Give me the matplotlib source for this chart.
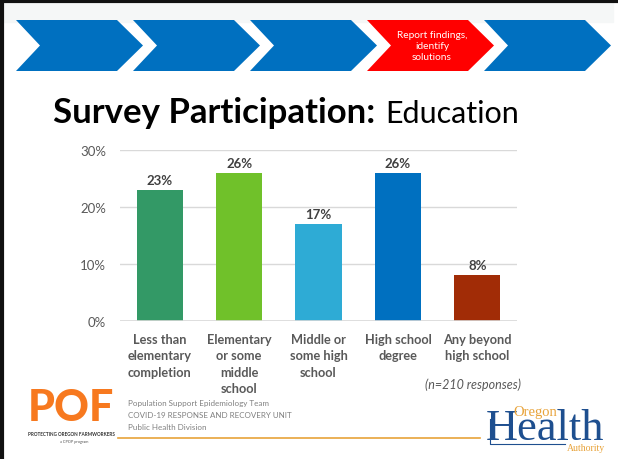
import matplotlib
matplotlib.use('Agg')
import matplotlib.pyplot as plt
from matplotlib.patches import Polygon, Rectangle

plt.rcParams['font.family'] = ['Lato', 'DejaVu Sans']

# chart data
categories = ['Less than\nelementary\ncompletion', 'Elementary\nor some\nmiddle\nschool',
              'Middle or\nsome high\nschool', 'High school\ndegree', 'Any beyond\nhigh school']
values = [23, 26, 17, 26, 8]
bar_colors = ['#339966', '#70c12a', '#2eabd5', '#0070c0', '#a12c06']
yticks = [0, 10, 20, 30]
note = '(n=210 responses)'

# slide decorations
steps = ['', '', '', 'Report findings,\nidentify\nsolutions', '']
step_colors = ['#0070c0', '#0070c0', '#0070c0', '#ff0000', '#0070c0']
footer_lines = ['Population Support Epidemiology Team',
                'COVID-19 RESPONSE AND RECOVERY UNIT',
                'Public Health Division']

W, H = 618, 460
fig = plt.figure(figsize=(W / 100, H / 100), dpi=100)
fig.patch.set_facecolor('white')

# overlay in pixel coordinates for the slide furniture
bg = fig.add_axes([0, 0, 1, 1])
bg.set_xlim(0, W)
bg.set_ylim(H, 0)
bg.axis('off')
bg.add_patch(Rectangle((3, 3), 610, 20, color='#f5f7f7', zorder=0))
bg.plot([1.5, 1.5], [0, H], color='#111111', lw=3)
bg.plot([0, W], [1.5, 1.5], color='#111111', lw=3)

# chevrons
for i, (lab, col) in enumerate(zip(steps, step_colors)):
    x0 = 16 + i * 117
    top, bot, mid = 21, 72, 46.5
    pts = [(x0, top), (x0 + 101, top), (x0 + 127, mid), (x0 + 101, bot), (x0, bot), (x0 + 24, mid)]
    bg.add_patch(Polygon(pts, closed=True, color=col, lw=0))
    if lab:
        bg.text(x0 + 65, mid, lab, color='white', fontsize=7.3, ha='center', va='center',
                linespacing=1.3)

# title
bg.text(53, 123, 'Survey Participation:', fontsize=25, fontweight='bold',
        color='black', ha='left', va='baseline')
bg.text(385, 123, 'Education', fontsize=22, color='black', ha='left', va='baseline')

# footer
bg.text(71, 421, 'POF', fontsize=31, fontweight='black', color='#f7791f',
        ha='center', va='baseline')
bg.text(71, 435, 'PROTECTING OREGON FARMWORKERS', fontsize=3.3, fontweight='bold',
        color='#333333', ha='center', va='center')
bg.text(74, 442, 'a CPOP program', fontsize=2.8, color='#555555', ha='center', va='center')
for k, line in enumerate(footer_lines):
    bg.text(128, 404 + k * 11.7, line, fontsize=5.8, color='#808080', ha='left', va='center')
bg.plot([118, 480], [439, 439], color='#e8a33a', lw=1.2)
bg.text(486, 440, 'Health', fontsize=32, color='#1e4f8f', ha='left', va='baseline',
        family='Liberation Serif')
bg.text(513, 416, 'Oregon', fontsize=10.5, color='#e8a33a', ha='left', va='baseline',
        family='Liberation Serif')
bg.text(605, 451, 'Authority', fontsize=7, color='#e8a33a', ha='right', va='baseline',
        family='Liberation Serif')
bg.plot([490, 490, 565], [420, 445, 445], color='#1e4f8f', lw=0.8)

# bar chart
ax = fig.add_axes([120 / W, 1 - 322 / H, 397 / W, 171 / H])
x = range(len(values))
ax.bar(x, values, width=0.58, color=bar_colors, zorder=3)
ax.set_xlim(-0.5, len(values) - 0.5)
ax.set_ylim(0, 30)
ax.set_yticks(yticks)
ax.set_yticklabels([f'{v}%' for v in yticks], color='#595959', fontsize=9.5)
ax.yaxis.grid(True, color='#d9d9d9', lw=1, zorder=0)
ax.tick_params(axis='y', length=0, pad=10)
ax.tick_params(axis='x', length=0, pad=8.5)
ax.set_xticks(list(x))
ax.set_xticklabels(categories, color='#595959', fontsize=9.2, fontweight='bold',
                   va='top', linespacing=1.45)
for s in ax.spines.values():
    s.set_visible(False)
ax.axhline(0, color='#d9d9d9', lw=1.2, zorder=4)
for xi, v in zip(x, values):
    ax.annotate(f'{v}%', (xi, v), xytext=(0, 3), textcoords='offset points',
                ha='center', va='bottom', fontsize=9.5, fontweight='bold', color='#404040')
ax.set_facecolor('none')

bg.text(521, 385, note, fontsize=9, style='italic', color='#595959', ha='right', va='center')

fig.savefig('out.png', dpi=100)
